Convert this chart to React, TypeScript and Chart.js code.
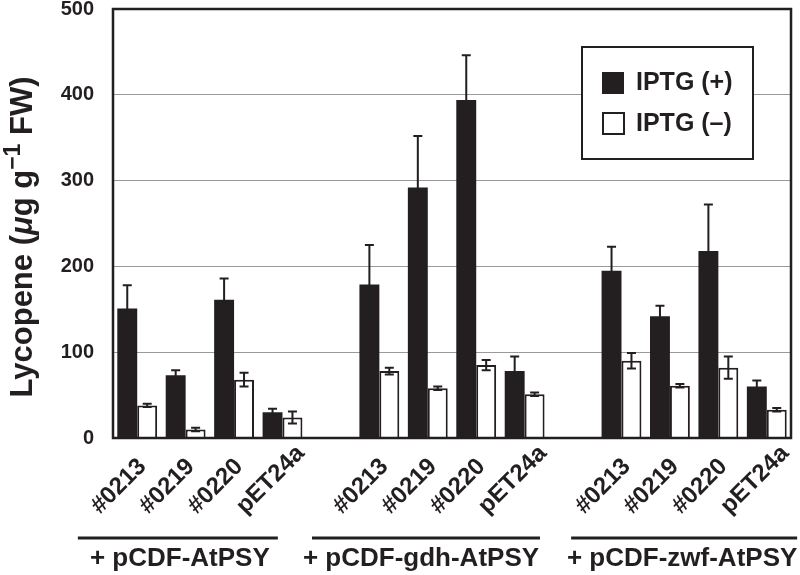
import React, { useEffect, useRef } from "react";
import { Chart, registerables } from "chart.js";

Chart.register(...registerables);

const groupNames = ["+ pCDF-AtPSY", "+ pCDF-gdh-AtPSY", "+ pCDF-zwf-AtPSY"];
const strainLabels = ["#0213", "#0219", "#0220", "pET24a"];
// 14 slots: 4 strains, gap, 4 strains, gap, 4 strains
const categories = [
  "#0213", "#0219", "#0220", "pET24a", "",
  "#0213", "#0219", "#0220", "pET24a", "",
  "#0213", "#0219", "#0220", "pET24a",
];
const iptgPlus = [151, 73, 161, 30, null, 179, 292, 394, 78, null, 195, 142, 218, 60];
const iptgPlusErr = [27, 6, 25, 4, null, 46, 60, 52, 17, null, 28, 12, 54, 7];
const iptgMinus = [38, 10, 68, 24, null, 78, 58, 85, 51, null, 90, 61, 82, 33];
const iptgMinusErr = [2, 2, 8, 7, null, 4, 2, 6, 2, null, 9, 2, 13, 2];
const yTicks = [0, 100, 200, 300, 400, 500];

const FONT = "'Liberation Sans', Arial, Helvetica, sans-serif";

const errorBarPlugin = {
  id: "errorBars",
  afterDatasetsDraw(chart: any) {
    const ctx = chart.ctx;
    const y = chart.scales.y;
    const errs = [iptgPlusErr, iptgMinusErr];
    ctx.save();
    ctx.strokeStyle = "#231f20";
    ctx.lineWidth = 2;
    chart.data.datasets.forEach((ds: any, di: number) => {
      const meta = chart.getDatasetMeta(di);
      meta.data.forEach((bar: any, i: number) => {
        const v = ds.data[i];
        const e = errs[di][i];
        if (v == null || e == null) return;
        const x = bar.x;
        const yt = y.getPixelForValue(v + e);
        const yb = y.getPixelForValue(v - e);
        ctx.beginPath();
        ctx.moveTo(x, yt);
        ctx.lineTo(x, yb);
        ctx.moveTo(x - 4.5, yt);
        ctx.lineTo(x + 4.5, yt);
        ctx.moveTo(x - 4.5, yb);
        ctx.lineTo(x + 4.5, yb);
        ctx.stroke();
      });
    });
    ctx.restore();
  },
};

// per-group offsets of the group caption relative to the mean slot position
const groupTextShift = [-30, -31, -12];
const groupLineHalf = [100, 114, 113];
const groupLineShift = [-2, 5, 2];

const decorPlugin = {
  id: "decor",
  afterDraw(chart: any) {
    const ctx = chart.ctx;
    const a = chart.chartArea;
    const xs = chart.scales.x;
    ctx.save();
    // frame
    ctx.strokeStyle = "#231f20";
    ctx.lineWidth = 2.5;
    ctx.strokeRect(a.left, a.top, a.right - a.left, a.bottom - a.top);

    // x labels rotated, anchored at their start
    ctx.fillStyle = "#231f20";
    ctx.font = `bold 24px ${FONT}`;
    ctx.textAlign = "left";
    ctx.textBaseline = "middle";
    categories.forEach((c, i) => {
      if (!c) return;
      const cx = xs.getPixelForValue(i);
      ctx.save();
      ctx.translate(cx - 42, a.bottom + 72);
      ctx.rotate(-Math.PI / 4);
      ctx.fillText(c, 0, 0);
      ctx.restore();
    });

    // group lines and names
    ctx.font = `bold 26px ${FONT}`;
    ctx.textAlign = "center";
    ctx.textBaseline = "alphabetic";
    groupNames.forEach((g, gi) => {
      const first = xs.getPixelForValue(gi * 5);
      const last = xs.getPixelForValue(gi * 5 + strainLabels.length - 1);
      const mid = (first + last) / 2 + groupTextShift[gi];
      const lm = mid + groupLineShift[gi];
      const half = groupLineHalf[gi];
      ctx.lineWidth = 3;
      ctx.beginPath();
      ctx.moveTo(lm - half, 538);
      ctx.lineTo(lm + half, 538);
      ctx.stroke();
      ctx.fillText(g, mid, 566);
    });

    // legend
    const lx = 582, ly = 47, lw = 171, lh = 112;
    ctx.fillStyle = "#ffffff";
    ctx.fillRect(lx, ly, lw, lh);
    ctx.lineWidth = 2;
    ctx.strokeStyle = "#231f20";
    ctx.strokeRect(lx, ly, lw, lh);
    ctx.fillStyle = "#231f20";
    ctx.fillRect(602, 72, 22, 22);
    ctx.fillStyle = "#ffffff";
    ctx.fillRect(603, 113, 21, 21);
    ctx.strokeRect(603, 113, 21, 21);
    ctx.fillStyle = "#231f20";
    ctx.font = `bold 25px ${FONT}`;
    ctx.textAlign = "left";
    ctx.textBaseline = "middle";
    ctx.fillText("IPTG (+)", 636, 83);
    ctx.fillText("IPTG (\u2013)", 636, 124);

    // y title
    const bf = `bold 31px ${FONT}`;
    const parts: [string, string, number][] = [
      ["Lycopene (", bf, 0],
      ["\u03bc", `italic bold 31px ${FONT}`, 0],
      ["g g", bf, 0],
      ["\u22121", `bold 23px ${FONT}`, -12],
      [" FW)", bf, 0],
    ];
    let total = 0;
    parts.forEach(([t, f]) => {
      ctx.font = f;
      total += ctx.measureText(t).width;
    });
    ctx.save();
    ctx.translate(32, 237 + total / 2);
    ctx.rotate(-Math.PI / 2);
    ctx.textAlign = "left";
    ctx.textBaseline = "alphabetic";
    let x = 0;
    parts.forEach(([t, f, dy]) => {
      ctx.font = f;
      ctx.fillText(t, x, dy);
      x += ctx.measureText(t).width;
    });
    ctx.restore();

    ctx.restore();
  },
};

export default function App() {
  const ref = useRef<HTMLCanvasElement | null>(null);
  useEffect(() => {
    if (!ref.current) return;
    const chart = new Chart(ref.current, {
      type: "bar",
      data: {
        labels: categories,
        datasets: [
          {
            label: "IPTG (+)",
            data: iptgPlus,
            backgroundColor: "#231f20",
            borderColor: "#231f20",
            borderWidth: 0,
          },
          {
            label: "IPTG (\u2013)",
            data: iptgMinus,
            backgroundColor: "#ffffff",
            borderColor: "#231f20",
            borderWidth: 2,
            borderSkipped: "start",
          },
        ],
      },
      options: {
        responsive: false,
        animation: false,
        datasets: { bar: { categoryPercentage: 0.823, barPercentage: 1.0 } },
        layout: { padding: { top: 9, right: 9, left: 0, bottom: 0 } },
        plugins: { legend: { display: false }, tooltip: { enabled: false } },
        scales: {
          x: {
            grid: { display: false },
            border: { display: false },
            ticks: { display: false },
            afterFit(s: any) {
              s.height = 137;
            },
          },
          y: {
            min: 0,
            max: 500,
            afterBuildTicks(s: any) {
              s.ticks = yTicks.map((v) => ({ value: v }));
            },
            grid: { color: "#9a9a9a", lineWidth: 1, drawTicks: false },
            border: { display: false },
            ticks: {
              padding: 19,
              color: "#231f20",
              font: { family: FONT, size: 20, weight: "bold" },
            },
            afterFit(s: any) {
              s.width = 113;
              s.paddingTop = 0;
              s.paddingBottom = 0;
            },
          },
        },
      },
      plugins: [errorBarPlugin, decorPlugin],
    });
    return () => chart.destroy();
  }, []);
  return (
    <div style={{ position: "absolute", left: 0, top: 0, width: 800, height: 575, background: "#fff" }}>
      <canvas ref={ref} width={800} height={575} />
    </div>
  );
}
